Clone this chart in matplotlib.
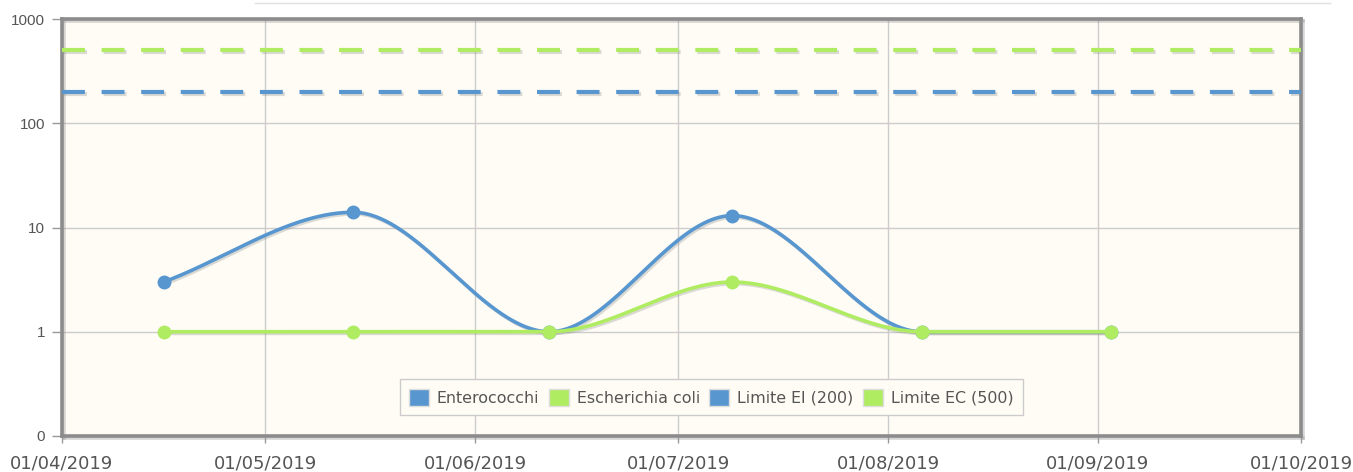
import numpy as np
import matplotlib
matplotlib.use("Agg")
import matplotlib.pyplot as plt
import matplotlib.dates as mdates
import matplotlib.patheffects as pe
from matplotlib.lines import Line2D
from matplotlib.patches import Patch
import datetime as dt

plt.rcParams['font.family'] = ['DejaVu Sans']

# ---- data ----
dates = ["2019-04-16", "2019-05-14", "2019-06-12", "2019-07-09", "2019-08-06", "2019-09-03"]
enterococchi = [3, 14, 1, 13, 1, 1]
escherichia_coli = [1, 1, 1, 3, 1, 1]
limite_ei = 200
limite_ec = 500
series_labels = ["Enterococchi", "Escherichia coli", "Limite EI (200)", "Limite EC (500)"]
y_ticks = [0.1, 1, 10, 100, 1000]
y_tick_labels = ["0", "1", "10", "100", "1000"]
x_ticks = ["2019-04-01", "2019-05-01", "2019-06-01", "2019-07-01", "2019-08-01", "2019-09-01", "2019-10-01"]

BLUE = "#5896d0"
GREEN = "#b0ec62"
BG = "#fefcf5"


def pchip(x, y, xn):
    x = np.asarray(x, float); y = np.asarray(y, float)
    h = np.diff(x); d = np.diff(y) / h
    n = len(x); m = np.zeros(n)
    for k in range(1, n - 1):
        if d[k - 1] * d[k] > 0:
            w1 = 2 * h[k] + h[k - 1]; w2 = h[k] + 2 * h[k - 1]
            m[k] = (w1 + w2) / (w1 / d[k - 1] + w2 / d[k])
    m[0] = 0 if d[0] == 0 else d[0]
    m[-1] = 0 if d[-1] == 0 else d[-1]
    out = np.empty_like(xn)
    for i, xv in enumerate(xn):
        k = min(max(np.searchsorted(x, xv) - 1, 0), n - 2)
        t = (xv - x[k]) / h[k]
        h00 = 2 * t**3 - 3 * t**2 + 1; h10 = t**3 - 2 * t**2 + t
        h01 = -2 * t**3 + 3 * t**2; h11 = t**3 - t**2
        out[i] = h00 * y[k] + h10 * h[k] * m[k] + h01 * y[k + 1] + h11 * h[k] * m[k + 1]
    return out


xd = mdates.date2num([dt.datetime.strptime(d, "%Y-%m-%d") for d in dates])
xt = mdates.date2num([dt.datetime.strptime(d, "%Y-%m-%d") for d in x_ticks])

fig = plt.figure(figsize=(13.53, 4.72), dpi=100)
fig.patch.set_facecolor("white")
ax = fig.add_axes([0.0458, 0.0763, 0.9158, 0.8834])
ax.set_facecolor(BG)
ax.set_yscale("log")
ax.set_ylim(0.1, 1000)
ax.set_xlim(xt[0], xt[-1])

shadow = [pe.SimpleLineShadow(offset=(1.2, -1.2), shadow_color="#888888", alpha=0.3), pe.Normal()]

# limits
ax.axhline(limite_ec, color=GREEN, lw=3, dashes=(5.5, 4), zorder=3, path_effects=shadow)
ax.axhline(limite_ei, color=BLUE, lw=3, dashes=(5.5, 4), zorder=3, path_effects=shadow)

xs = np.linspace(xd[0], xd[-1], 600)
for vals, col, z in [(enterococchi, BLUE, 4), (escherichia_coli, GREEN, 5)]:
    ly = pchip(xd, np.log10(vals), xs)
    ax.plot(xs, 10 ** ly, color=col, lw=2.6, zorder=z, path_effects=shadow)
    ax.plot(xd, vals, "o", color=col, ms=9, mec=col, zorder=z + 0.1)

ax.set_yticks(y_ticks)
ax.set_yticklabels(y_tick_labels, family=["Liberation Sans"], fontsize=11)
ax.yaxis.set_minor_locator(matplotlib.ticker.NullLocator())
ax.set_xticks(xt)
ax.set_xticklabels([dt.datetime.strptime(d, "%Y-%m-%d").strftime("%d/%m/%Y") for d in x_ticks],
                   fontsize=13)

ax.grid(True, color="#cccccc", lw=1)
ax.set_axisbelow(True)
for s in ax.spines.values():
    s.set_color("#8c8c8c")
    s.set_linewidth(2.6)
    s.set_path_effects([pe.SimpleLineShadow(offset=(1.5, -1.5), shadow_color="#999999", alpha=0.4), pe.Normal()])
ax.tick_params(axis="y", length=7, width=1, color="#999999", labelcolor="#555555", pad=5)
ax.tick_params(axis="x", length=5, width=1, color="#999999", labelcolor="#555555", pad=8,
               direction="out")

handles = [Patch(facecolor=BLUE, edgecolor="#dddddd"), Patch(facecolor=GREEN, edgecolor="#dddddd"),
           Patch(facecolor=BLUE, edgecolor="#dddddd"), Patch(facecolor=GREEN, edgecolor="#dddddd")]
leg = ax.legend(handles, series_labels, loc="lower center", bbox_to_anchor=(0.524, 0.05), ncol=4,
                frameon=True, fancybox=False, edgecolor="#cccccc", facecolor=BG, framealpha=1,
                fontsize=11.4, handlelength=1.25, handleheight=1.25, handletextpad=0.5, columnspacing=0.6,
                borderpad=0.6, borderaxespad=0)
for t in leg.get_texts():
    t.set_color("#555555")
leg.set_zorder(10)

fig.add_artist(Line2D([255 / 1353, 1330 / 1353], [1 - 3 / 472, 1 - 3 / 472], color="#e0e0e0", lw=1))

fig.savefig("out.png", dpi=100, facecolor="white")
